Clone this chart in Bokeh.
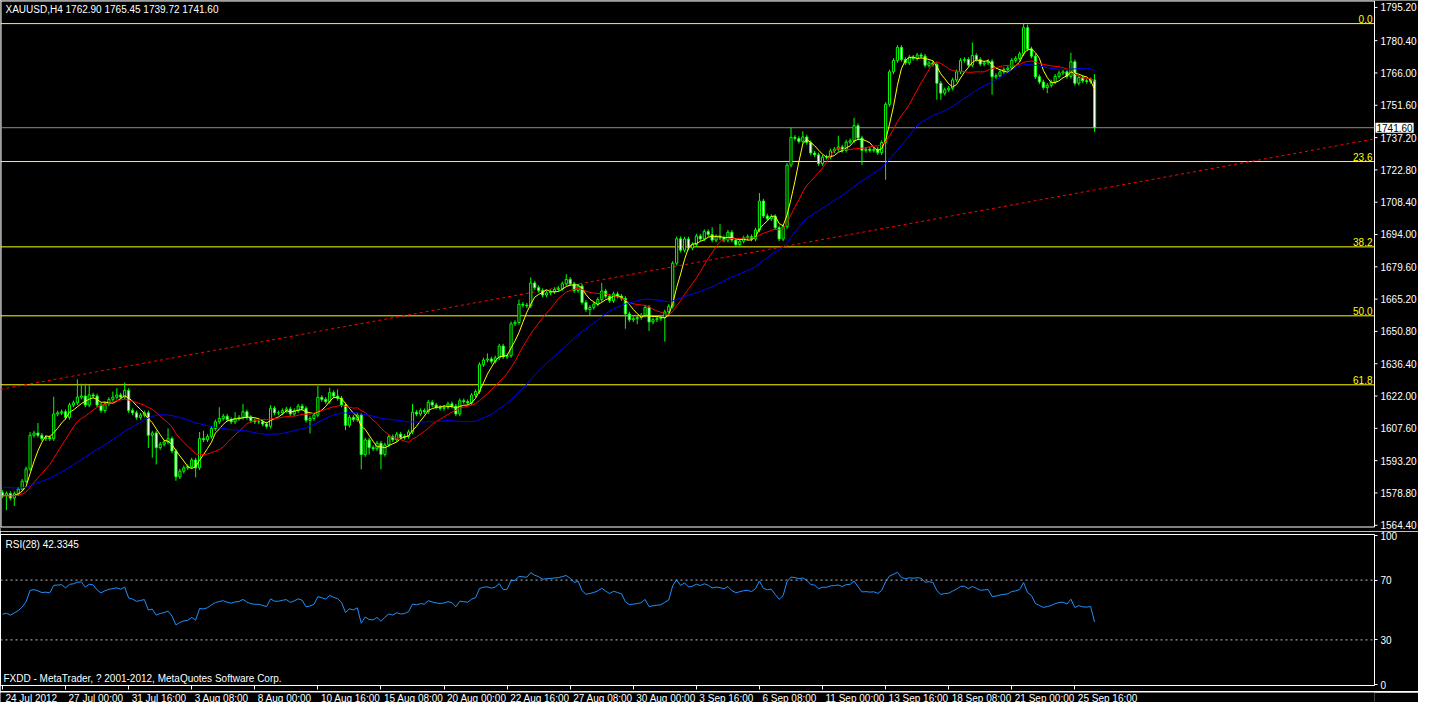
from bokeh.plotting import figure
from bokeh.models import Span, Label, FixedTicker, ColumnDataSource, Range1d
from bokeh.layouts import column
from bokeh.embed import file_html
from bokeh.resources import INLINE
from bokeh.core.properties import value

# ---------------- data ----------------
symbol_text = "XAUUSD,H4  1762.90 1765.45 1739.72 1741.60"
rsi_text = "RSI(28) 42.3345"
copyright_text = "FXDD - MetaTrader, ? 2001-2012, MetaQuotes Software Corp."

time_label_bars = [0, 16, 32, 48, 64, 80, 96, 112, 128, 144, 160, 176, 192, 208, 224, 240, 256, 272]
time_labels = ["24 Jul 2012", "27 Jul 00:00", "31 Jul 16:00", "3 Aug 08:00", "8 Aug 00:00",
               "10 Aug 16:00", "15 Aug 08:00", "20 Aug 00:00", "22 Aug 16:00", "27 Aug 08:00",
               "30 Aug 00:00", "3 Sep 16:00", "6 Sep 08:00", "11 Sep 00:00", "13 Sep 16:00",
               "18 Sep 08:00", "21 Sep 00:00", "25 Sep 16:00"]

price_ticks = [1795.20, 1780.40, 1766.00, 1751.60, 1737.20, 1722.80, 1708.40, 1694.00, 1679.60,
               1665.20, 1650.80, 1636.40, 1622.00, 1607.60, 1593.20, 1578.80, 1564.40]
rsi_ticks = [0, 30, 70, 100]
rsi_levels = [30, 70]

first_open = 1579.0
closes = [
    1577.5, 1578.5, 1576.5, 1578.5, 1580.5, 1584.0, 1589.5, 1604.5, 1605.5, 1604.5,
    1603.0, 1603.5, 1603.0, 1614.0, 1614.5, 1615.0, 1612.5, 1618.0, 1619.0, 1621.5,
    1622.0, 1618.0, 1622.5, 1622.0, 1618.0, 1615.5, 1618.5, 1620.5, 1621.5, 1622.5,
    1621.5, 1624.5, 1615.5, 1614.5, 1612.5, 1613.5, 1614.5, 1604.5, 1605.5, 1599.0,
    1600.5, 1601.5, 1603.0, 1597.5, 1586.0, 1588.5, 1590.0, 1590.5, 1593.5, 1590.0,
    1603.0, 1602.5, 1604.0, 1607.5, 1610.5, 1612.0, 1613.0, 1611.5, 1610.5, 1612.0,
    1612.5, 1615.0, 1612.5, 1611.0, 1610.5, 1610.5, 1609.5, 1608.5, 1616.5, 1614.5,
    1614.5, 1615.5, 1616.2, 1614.0, 1615.5, 1617.5, 1616.5, 1611.2, 1612.0, 1613.5,
    1621.4, 1620.5, 1619.5, 1623.5, 1622.0, 1621.0, 1618.0, 1609.0, 1612.5, 1611.5,
    1613.5, 1595.9, 1602.4, 1599.0, 1598.5, 1601.0, 1596.0, 1600.2, 1603.9, 1602.5,
    1605.0, 1603.5, 1604.0, 1606.0, 1614.8, 1614.0, 1615.5, 1615.0, 1619.2, 1618.0,
    1617.0, 1616.5, 1617.0, 1618.5, 1617.5, 1614.0, 1619.9, 1619.5, 1619.0, 1622.4,
    1624.0, 1636.0, 1638.0, 1638.5, 1637.5, 1639.0, 1644.3, 1639.5, 1640.0, 1654.2,
    1654.8, 1662.9, 1662.5, 1662.2, 1672.4, 1670.3, 1669.0, 1667.0, 1668.0, 1668.5,
    1669.5, 1670.0, 1672.0, 1674.0, 1672.0, 1669.0, 1671.0, 1663.7, 1660.5, 1661.5,
    1663.0, 1665.0, 1668.8, 1666.5, 1664.5, 1667.5, 1666.5, 1665.5, 1658.6, 1656.0,
    1656.5, 1657.0, 1658.0, 1661.5, 1655.0, 1656.0, 1656.5, 1657.0, 1659.5, 1662.0,
    1681.2, 1692.1, 1687.0, 1692.0, 1688.0, 1689.5, 1693.3, 1692.0, 1695.3, 1694.0,
    1691.5, 1693.0, 1692.5, 1691.5, 1695.0, 1691.5, 1689.5, 1691.0, 1692.5, 1693.0,
    1692.0, 1696.0, 1708.9, 1702.3, 1701.0, 1702.0, 1697.0, 1692.0, 1697.5, 1724.9,
    1737.3, 1736.8, 1735.5, 1737.5, 1735.0, 1730.3, 1729.5, 1725.6, 1728.5, 1728.5,
    1731.3, 1732.0, 1733.0, 1731.5, 1735.2, 1735.8, 1742.5, 1737.0, 1731.5, 1732.0,
    1731.5, 1732.0, 1730.5, 1735.0, 1752.0, 1766.5, 1771.6, 1777.4, 1772.0, 1770.5,
    1773.0, 1772.5, 1774.0, 1773.5, 1769.4, 1770.5, 1769.8, 1761.4, 1757.0, 1758.5,
    1759.2, 1762.9, 1766.5, 1771.6, 1772.0, 1769.5, 1773.8, 1772.0, 1770.0, 1770.5,
    1771.2, 1764.3, 1764.8, 1766.5, 1767.5, 1768.2, 1771.6, 1772.5, 1774.5, 1786.2,
    1776.7, 1773.5, 1764.3, 1762.0, 1759.5, 1760.5, 1762.0, 1764.5, 1766.0, 1766.5,
    1764.5, 1771.0, 1761.4, 1764.0, 1762.5, 1762.2, 1762.9, 1741.6,
]
# wick extremes that stand out in the picture (bar index -> price)
high_marks = {7: 1606.0, 9: 1610.0, 13: 1621.7, 19: 1629.4, 20: 1627.5, 21: 1627.5, 22: 1627.0,
              28: 1624.0, 29: 1625.5, 31: 1628.0, 42: 1607.6, 50: 1606.0, 51: 1606.5, 55: 1617.0,
              59: 1614.8, 61: 1618.5, 68: 1618.0, 75: 1618.5, 80: 1626.5, 83: 1625.7, 85: 1625.0,
              104: 1618.5, 123: 1641.0, 131: 1665.0, 134: 1674.9, 143: 1676.3, 152: 1672.4,
              180: 1697.3, 182: 1698.7, 192: 1712.5, 200: 1741.7, 203: 1740.0, 212: 1738.0,
              216: 1746.0, 246: 1779.6, 259: 1788.0, 260: 1787.5, 271: 1775.0, 277: 1765.45}
low_marks = {1: 1571.1, 3: 1573.0, 37: 1598.8, 38: 1594.5, 39: 1591.5, 44: 1584.2, 49: 1585.7,
             78: 1605.3, 87: 1606.8, 91: 1589.3, 93: 1595.9, 96: 1589.3, 149: 1657.8, 158: 1652.0,
             161: 1654.0, 164: 1651.0, 168: 1646.2, 218: 1725.0, 224: 1718.4, 237: 1754.1,
             238: 1754.0, 251: 1756.3, 265: 1757.0, 277: 1739.72}
typical_wick = 1.0

# moving averages (yellow 5, red 13, blue 34) with start levels read at the left edge
ma_periods = [5, 13, 34]
ma_seeds = [1577.5, 1577.5, 1581.5]
ma_colors = ["#FFFF00", "#FF0000", "#0000FF"]

# RSI(28) starting average gain / loss
rsi_period = 28
rsi_seed_gain = 1.3
rsi_seed_loss = 1.4

# Fibonacci retracement anchors and levels
fib_high = 1788.0
fib_low = 1527.5
fib_levels = [0.0, 23.6, 38.2, 50.0, 61.8]
fib_names = ["0.0", "23.6", "38.2", "50.0", "61.8"]

# red dotted trend line anchors (bar, price)
trend_bars = [-0.5, 348.0]
trend_prices = [1625.0, 1736.6]

bid_price = 1741.60
bid_text = "1741.60"

# ---------------- derived series ----------------
n = len(closes)
xs = list(range(n))
opens = [first_open] + closes[:-1]
highs, lows, fills = [], [], []
for i in range(n):
    o, c = opens[i], closes[i]
    highs.append(high_marks.get(i, max(o, c) + typical_wick))
    lows.append(low_marks.get(i, min(o, c) - typical_wick))
    fills.append("#000000" if c >= o else "#FFFFFF")


def sma(vals, period, seed):
    hist = [seed] * (period - 1) + list(vals)
    return [sum(hist[i:i + period]) / period for i in range(len(vals))]


mas = [sma(closes, p, s) for p, s in zip(ma_periods, ma_seeds)]

ag, al = rsi_seed_gain, rsi_seed_loss
rsi = []
prev = first_open
for c in closes:
    ch = c - prev
    ag = (ag * (rsi_period - 1) + max(ch, 0)) / rsi_period
    al = (al * (rsi_period - 1) + max(-ch, 0)) / rsi_period
    rsi.append(100.0 * ag / (ag + al))
    prev = c

# ---------------- geometry / styling ----------------
FONT = "Liberation Sans"
FS = "10px"
LIME = "#00FF00"
FRAME_W = 1374          # chart area width (px)
RIGHT = 44              # price-scale width (px)
X0, X_END = -0.5, 348.0
px_per_bar = FRAME_W / (X_END - X0)
CHART_H = 527           # main chart height (px)
EXTRA_H = 4             # room under the chart for the lowest price label
Y_TOP, Y_BOT = 1798.3, 1563.4
price_per_px = (Y_TOP - Y_BOT) / CHART_H
Y_LOW = Y_BOT - EXTRA_H * price_per_px

# ---------------- main price panel ----------------
p1 = figure(frame_width=FRAME_W + RIGHT, frame_height=CHART_H + EXTRA_H,
            x_range=Range1d(X0, X_END + RIGHT / px_per_bar), y_range=Range1d(Y_LOW, Y_TOP),
            output_backend="svg", toolbar_location=None, x_axis_location=None, y_axis_location=None,
            background_fill_color="black", border_fill_color="black",
            min_border_left=0, min_border_right=0, min_border_top=0, min_border_bottom=0,
            outline_line_color=None)
p1.grid.visible = False

# chart frame
ex = 0.5 / px_per_bar
ey = 0.5 * price_per_px
p1.line([X0 + ex, X_END, X_END, X0 + ex, X0 + ex],
        [Y_BOT + ey, Y_BOT + ey, Y_TOP - ey, Y_TOP - ey, Y_BOT + ey],
        line_color="white", line_width=1)

# fib lines and labels
fib_prices = [fib_high - lvl / 100.0 * (fib_high - fib_low) for lvl in fib_levels]
p1.segment(x0=[X0] * len(fib_prices), x1=[X_END] * len(fib_prices), y0=fib_prices, y1=fib_prices,
           line_color="#FFFF00", line_width=1)
p1.text(x=[X_END] * len(fib_prices), y=fib_prices, text=fib_names, x_offset=-2, y_offset=-1,
        text_align="right", text_baseline="bottom", text_color="#FFFF00",
        text_font=value(FONT), text_font_size=value(FS))

# bid line
p1.segment(x0=[X0], x1=[X_END], y0=[bid_price], y1=[bid_price], line_color="#8C8C8C", line_width=1)

# trend line
p1.line(trend_bars, trend_prices, line_color="#FF0000", line_width=1, line_dash="3 3")

# candles
src = ColumnDataSource(dict(x=xs, open=opens, close=closes, high=highs, low=lows, fill=fills))
p1.segment(x0="x", y0="low", x1="x", y1="high", source=src, line_color=LIME, line_width=1)
p1.vbar(x="x", width=0.55, top="open", bottom="close", source=src, fill_color="fill",
        line_color=LIME, line_width=1)

# moving averages
for m, col in zip(mas, ma_colors):
    p1.line(xs, m, line_color=col, line_width=1)

# price scale
p1.ray(x=[X_END] * len(price_ticks), y=price_ticks, length=3, length_units="screen", angle=0,
       line_color="white", line_width=1)
p1.text(x=[X_END] * len(price_ticks), y=price_ticks, text=[f"{v:.2f}" for v in price_ticks],
        x_offset=6, text_baseline="middle", text_color="white",
        text_font=value(FONT), text_font_size=value(FS))
p1.add_layout(Label(x=X_END, y=bid_price, x_offset=1, text=bid_text, text_baseline="middle",
                    text_color="black", text_font=FONT, text_font_size=FS,
                    background_fill_color="white", padding=1))

p1.add_layout(Label(x=5, y=CHART_H + EXTRA_H - 3, x_units="screen", y_units="screen",
                    text=symbol_text, text_baseline="top", text_color="white",
                    text_font=FONT, text_font_size=FS))

# ---------------- RSI panel ----------------
x_range2 = Range1d(X0, X_END)
p2 = figure(frame_width=FRAME_W, frame_height=151, x_range=x_range2, y_range=Range1d(-0.5, 100.5),
            output_backend="svg", toolbar_location=None, y_axis_location="right",
            background_fill_color="black", border_fill_color="black",
            min_border_left=0, min_border_right=RIGHT, min_border_top=3, min_border_bottom=6,
            outline_line_color="white", outline_line_width=1)
p2.grid.visible = False
ay = p2.yaxis[0]
ay.ticker = FixedTicker(ticks=rsi_ticks)
ay.axis_line_color = None
ay.major_tick_line_color = "white"
ay.major_tick_out = 3
ay.major_tick_in = 0
ay.minor_tick_line_color = None
ay.major_label_text_color = "white"
ay.major_label_text_font = FONT
ay.major_label_text_font_size = FS
ay.major_label_standoff = 3

axx = p2.xaxis[0]
axx.ticker = FixedTicker(ticks=time_label_bars)
axx.major_label_overrides = {b: "" for b in time_label_bars}
axx.major_label_text_font_size = "1px"
axx.major_label_standoff = 0
axx.axis_line_color = None
axx.major_tick_line_color = "white"
axx.major_tick_out = 4
axx.major_tick_in = 0
axx.minor_tick_line_color = None

for lv in rsi_levels:
    p2.add_layout(Span(location=lv, dimension="width", line_color="#C0C0C0", line_width=1,
                       line_dash="2 3"))
p2.line(xs, rsi, line_color="#1E90FF", line_width=1)

p2.add_layout(Label(x=5, y=147, x_units="screen", y_units="screen", text=rsi_text,
                    text_baseline="top", text_color="white", text_font=FONT, text_font_size=FS))
p2.add_layout(Label(x=3, y=2, x_units="screen", y_units="screen", text=copyright_text,
                    text_baseline="bottom", text_color="white", text_font=FONT, text_font_size=FS))

# ---------------- time scale strip ----------------
p3 = figure(frame_width=FRAME_W, frame_height=11, x_range=x_range2, y_range=Range1d(0, 1),
            output_backend="svg", toolbar_location=None, x_axis_location=None, y_axis_location=None,
            background_fill_color="black", border_fill_color="black",
            min_border_left=0, min_border_right=RIGHT, min_border_top=0, min_border_bottom=0,
            outline_line_color=None)
p3.grid.visible = False
p3.text(x=time_label_bars, y=[1] * len(time_label_bars), text=time_labels, x_offset=3,
        text_baseline="top", text_color="white", text_font=value(FONT), text_font_size=value(FS))

layout = column(p1, p2, p3, spacing=0)
open("out.html", "w").write(file_html(layout, INLINE))
